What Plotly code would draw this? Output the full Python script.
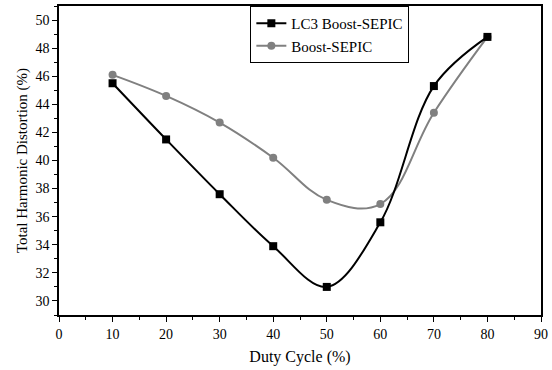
import plotly.graph_objects as go

duty = [10, 20, 30, 40, 50, 60, 70, 80]
lc3_boost_sepic = [45.5, 41.5, 37.6, 33.9, 31.0, 35.6, 45.3, 48.8]
boost_sepic = [46.1, 44.6, 42.7, 40.2, 37.2, 36.9, 43.4, 48.8]

font_family = "Liberation Serif, Times New Roman, serif"

fig = go.Figure()
fig.add_trace(go.Scatter(
    x=duty, y=boost_sepic, name="Boost-SEPIC", mode="lines+markers",
    line=dict(color="#808080", width=2, shape="spline", smoothing=1.1),
    marker=dict(symbol="circle", size=8, color="#808080"),
))
fig.add_trace(go.Scatter(
    x=duty, y=lc3_boost_sepic, name="LC3 Boost-SEPIC", mode="lines+markers",
    line=dict(color="black", width=2, shape="spline", smoothing=1.0),
    marker=dict(symbol="square", size=8, color="black"),
))

axis_common = dict(
    showline=True, linecolor="black", linewidth=1.5, mirror=True,
    ticks="outside", ticklen=5, tickwidth=1, tickcolor="black",
    showgrid=False, zeroline=False,
    tickfont=dict(family=font_family, size=14, color="black"),
)

fig.update_layout(
    width=552, height=370,
    margin=dict(l=59, r=7, t=4, b=55),
    plot_bgcolor="white", paper_bgcolor="white",
    font=dict(family=font_family, color="black"),
    xaxis=dict(range=[0, 90], dtick=10, tick0=0,
               minor=dict(ticks="outside", dtick=5, ticklen=3, tickcolor="black"),
               title=dict(text="Duty Cycle (%)", font=dict(size=16, family=font_family), standoff=10),
               **axis_common),
    yaxis=dict(range=[29, 51], dtick=2, tick0=30,
               minor=dict(ticks="outside", dtick=1, ticklen=3, tickcolor="black"),
               title=dict(text="Total Harmonic Distortion (%)", font=dict(size=15, family=font_family), standoff=4),
               **axis_common),
    legend=dict(x=0.397, y=1.0, xanchor="left", yanchor="top",
                bgcolor="white", bordercolor="black", borderwidth=1,
                font=dict(family=font_family, size=15, color="black"),
                traceorder="reversed", itemwidth=30,
                tracegroupgap=0),
    showlegend=True,
)

fig.write_html("out.html")
